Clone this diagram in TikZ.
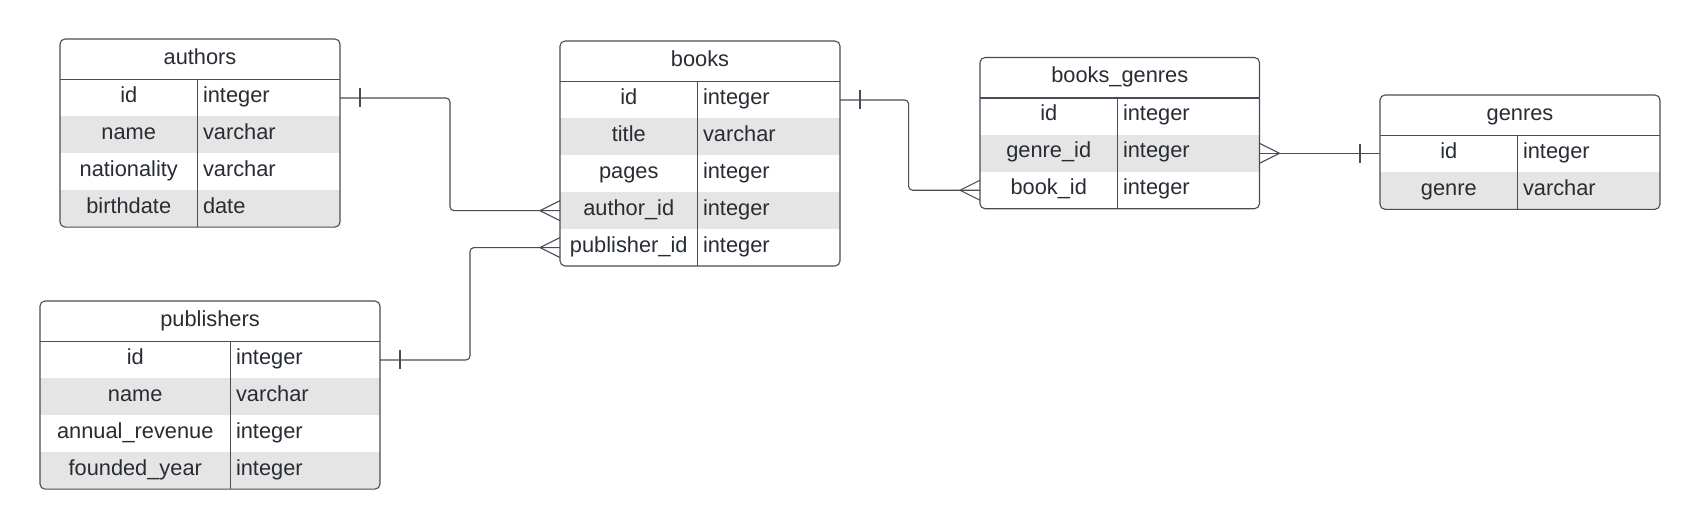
\documentclass[tikz,border=0pt]{standalone}
\usepackage{fontspec}
\setmainfont{Liberation Sans}
\usetikzlibrary{calc}
\definecolor{erText}{HTML}{282C33}
\definecolor{erLine}{HTML}{474D56}
\definecolor{erGray}{HTML}{E5E5E5}

\newcommand\ertable[8]{% #1 name, #2 x, #3 y, #4 width, #5 colwidth, #6 nrows, #7 title, #8 rows
  \pgfmathsetmacro\erH{40.5+#6*36.9}
  \node[hdrbox, minimum width=#4, anchor=north west] (#1) at (#2,#3) {};
  \node[txt, anchor=base] (#1-title) at ($(#1.center)+(0,5)$) {#7};
  \begin{scope}
    \clip[rounded corners=5] (#2,#3) rectangle ++(#4,\erH);
    \foreach \f/\t [count=\i] in {#8} {
      \ifodd\i\relax\def\erF{white}\else\def\erF{erGray}\fi
      \node[rowbox, fill=\erF, minimum width=#4, anchor=north west] (#1-\i) at ({#2},{#3+40.5+(\i-1)*36.9}) {};
      \node[txt, anchor=base] (#1-\i-f) at ($(#1-\i.center)+({#5/2-#4/2},4.5)$) {\f};
      \node[txt, anchor=base west] (#1-\i-t) at ($(#1-\i.west)+({#5+5.5},4.5)$) {\t};
    }
  \end{scope}
  \draw[erline, rounded corners=5] (#2,#3) rectangle ++(#4,\erH);
  \draw[erline] (#1-1.north west) -- (#1-1.north east);
  \draw[erline] ($(#1-1.north west)+(#5,0)$) -- ($(#1-#6.south west)+(#5,0)$);
}

\begin{document}
\begin{tikzpicture}[x=1pt, y=-1pt,
  txt/.style={inner sep=0, outer sep=0, text=erText, font=\fontsize{21.8}{26}\selectfont},
  hdrbox/.style={rectangle, inner sep=0, outer sep=0, minimum height=40.5},
  rowbox/.style={rectangle, inner sep=0, outer sep=0, minimum height=36.9},
  erline/.style={draw=erLine, line width=1.1pt},
  conn/.style={draw=erLine, line width=1.1pt, rounded corners=4}]
\fill[white] (0,0) rectangle (1700,530);
\useasboundingbox (0,0) rectangle (1700,530);

\ertable{authors}{60}{39}{280}{137.5}{4}{authors}{id/integer, name/varchar, nationality/varchar, birthdate/date}
\ertable{books}{560}{41}{280}{137.5}{5}{books}{id/integer, title/varchar, pages/integer, author\_id/integer, publisher\_id/integer}
\ertable{bg}{980}{57.5}{279.5}{137.5}{3}{books\_genres}{id/integer, genre\_id/integer, book\_id/integer}
\ertable{genres}{1380}{95}{280}{137.5}{2}{genres}{id/integer, genre/varchar}
\ertable{publishers}{40}{301}{340}{190.5}{4}{publishers}{id/integer, name/varchar, annual\_revenue/integer, founded\_year/integer}

% authors -> books
\draw[conn] (authors-1.east) -- ++(110,0) |- (books-4.west);
\draw[erline] ($(authors-1.east)+(20,-9.5)$) -- ++(0,19);
\draw[erline] ($(books-4.west)+(0,-10)$) -- ($(books-4.west)+(-20,0)$) -- ($(books-4.west)+(0,10)$);

% publishers -> books
\draw[conn] (publishers-1.east) -- ++(90,0) |- (books-5.west);
\draw[erline] ($(publishers-1.east)+(20,-9.5)$) -- ++(0,19);
\draw[erline] ($(books-5.west)+(0,-10)$) -- ($(books-5.west)+(-20,0)$) -- ($(books-5.west)+(0,10)$);

% books -> books_genres
\draw[conn] (books-1.east) -- ++(68.6,0) |- (bg-3.west);
\draw[erline] ($(books-1.east)+(20,-9.5)$) -- ++(0,19);
\draw[erline] ($(bg-3.west)+(0,-10)$) -- ($(bg-3.west)+(-20,0)$) -- ($(bg-3.west)+(0,10)$);

% genres -> books_genres
\draw[conn] (bg-2.east) -- (bg-2.east -| genres-1.west);
\draw[erline] ($(bg-2.east -| genres-1.west)+(-20,-9.5)$) -- ++(0,19);
\draw[erline] ($(bg-2.east)+(0,-10)$) -- ($(bg-2.east)+(20,0)$) -- ($(bg-2.east)+(0,10)$);
\end{tikzpicture}
\end{document}
